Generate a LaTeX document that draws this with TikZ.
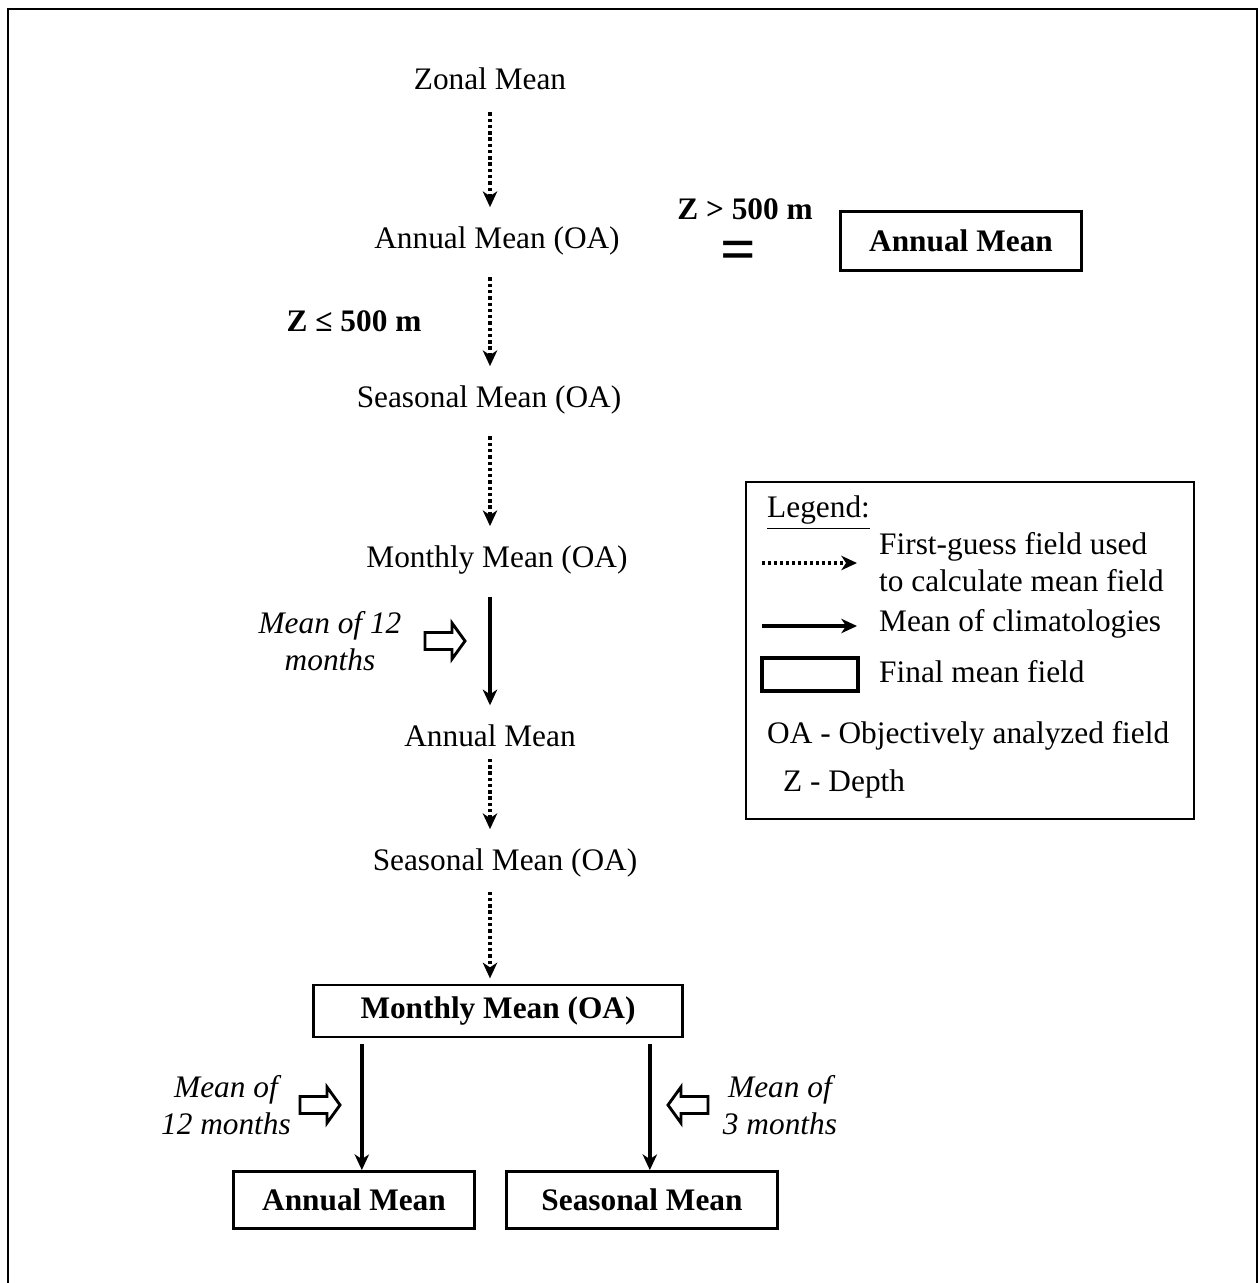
\documentclass[tikz,border=0pt]{standalone}
\usepackage{fontspec}
\setmainfont{Liberation Serif}
\usepackage{tikz}
\usetikzlibrary{arrows.meta}
\usetikzlibrary{positioning}
\tikzset{>={Stealth[length=6pt, width=5.5pt, inset=1.8pt]}}
\tikzset{
  finalbox/.style={draw, line width=1.1pt, font=\fontsize{12}{14}\selectfont\bfseries, minimum height=21.8pt},
  guess/.style={->, line width=1.7pt, dash pattern=on 1.3pt off 1.1pt, shorten <=5pt, shorten >=4pt},
  climo/.style={->, line width=1.3pt},
  note/.style={font=\fontsize{12}{14}\selectfont\itshape, align=center},
  legtext/.style={anchor=west, align=left, font=\fontsize{12}{14}\selectfont},
  hollowarrow/.pic={
    \draw[line width=1.1pt, line join=miter] (-20,-8.5) -- (7,-8.5) -- (7,-18) -- (20,0)
      -- (7,18) -- (7,8.5) -- (-20,8.5) -- cycle;
  }
}

\begin{document}
\begin{tikzpicture}[x=0.383pt, y=-0.383pt, font=\fontsize{12}{14}\selectfont]
    \useasboundingbox (0,0) rectangle (1259,1283);
    % Draw the outer frame.
    \draw[line width=1.1pt] (8,1290) -- (8,9) -- (1257,9) -- (1257,1290);
    \coordinate (axis) at (490,0);

    % Draw the first-guess chain.
    \node (zonal) at (490,79) {Zonal Mean};
    \node (annoa) at (497,241) {Annual Mean (OA)};
    \node (seasoa) at (489,400) {Seasonal Mean (OA)};
    \node (monoa) at (497,560) {Monthly Mean (OA)};
    \node (annual) at (490,736) {Annual Mean};
    \node (seasoatwo) at (505,863) {Seasonal Mean (OA)};
    \node[finalbox, minimum width=141pt, minimum height=19.9pt] (monfinal) at (498,1011) {Monthly Mean (OA)};

    \draw[guess] (zonal.south -| axis) -- (annoa.north -| axis);
    \draw[guess] (annoa.south -| axis) -- (seasoa.north -| axis);
    \draw[guess] (seasoa.south -| axis) -- (monoa.north -| axis);
    \draw[climo, shorten <=5pt, shorten >=4pt] (monoa.south -| axis) -- (annual.north -| axis);
    \draw[guess, shorten <=1pt] (annual.south -| axis) -- (seasoatwo.north -| axis);
    \draw[guess, shorten <=2pt, shorten >=2pt] (seasoatwo.south -| axis) -- (monfinal.north -| axis);

    % Depth conditions.
    \node[font=\fontsize{12}{14}\selectfont\bfseries] (deep) at (745,209) {Z > 500 m};
    \node[font=\fontsize{24}{28}\selectfont\bfseries] (equal) at (738,256) {=};
    \node[finalbox, minimum width=92.3pt, minimum height=22.6pt] (annbig) at (961,241) {Annual Mean};
    \node[font=\fontsize{12}{14}\selectfont\bfseries] (shallow) at (354,321) {Z ≤ 500 m};

    % Notes and hollow arrows.
    \node[note] (twelveup) at (330,641) {Mean of 12\\months};
    \pic at (445,641) {hollowarrow};
    \node[note] (twelve) at (226,1105) {Mean of\\12 months};
    \pic at (320,1105) {hollowarrow};
    \node[note] (three) at (780,1105) {Mean of\\3 months};
    \pic[rotate=180] at (688,1105) {hollowarrow};

    % Final fields.
    \node[finalbox, minimum width=92pt] (annbox) at (354,1200) {Annual Mean};
    \node[finalbox, minimum width=104pt] (seasbox) at (642,1200) {Seasonal Mean};
    \draw[climo, shorten <=2pt] ([xshift=3pt]monfinal.south -| annbox) -- ([xshift=3pt]annbox.north);
    \draw[climo, shorten <=2pt] ([xshift=3pt]monfinal.south -| seasbox) -- ([xshift=3pt]seasbox.north);

    % Draw the legend.
    \draw[line width=1pt] (746,482) rectangle (1194,819);
    \node[legtext] (leghead) at (758,513) {\underline{Legend:}};
    \coordinate (dotfrom) at (762,563);
    \coordinate (dotto) at (857,563);
    \draw[->, line width=1.4pt, dash pattern=on 1.2pt off 1.1pt] (dotfrom) -- (dotto);
    \node[legtext] (legguess) at (870,562) {First-guess field used\\to calculate mean field};
    \coordinate (linefrom) at (762,626);
    \coordinate (lineto) at (857,626);
    \draw[->, line width=1.3pt] (linefrom) -- (lineto);
    \node[legtext] (legclimo) at (870,624) {Mean of climatologies};
    \draw[line width=1.6pt] (762,658) rectangle (858,691);
    \node[legtext] (legfinal) at (870,672) {Final mean field};
    \node[legtext] (legoa) at (758,736) {OA - Objectively analyzed field};
    \node[legtext] (legz) at (774,784) {Z - Depth};
\end{tikzpicture}
\end{document}
